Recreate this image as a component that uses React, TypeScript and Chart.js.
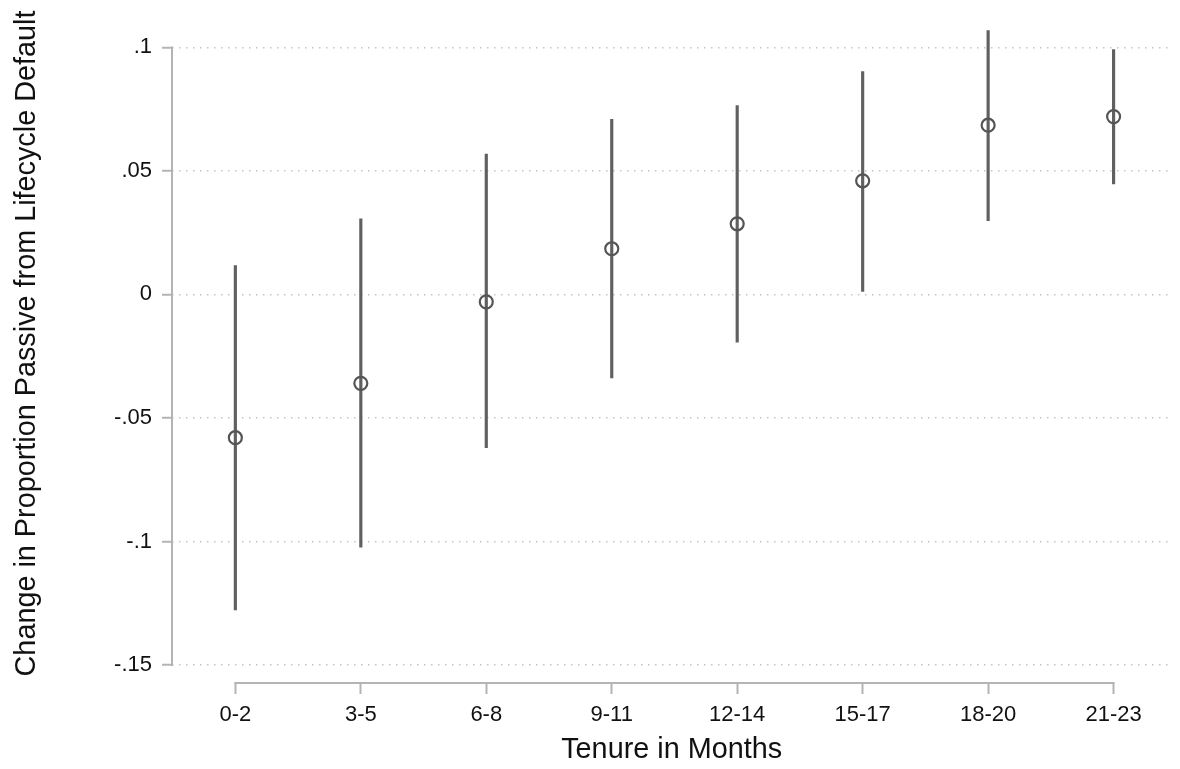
import React, { useEffect, useRef } from "react";
import { Chart, registerables } from "chart.js";

Chart.register(...registerables);

const categories = ["0-2", "3-5", "6-8", "9-11", "12-14", "15-17", "18-20", "21-23"];
const estimates = [-0.058, -0.036, -0.003, 0.0185, 0.0286, 0.046, 0.0685, 0.072];
const upperCI = [0.0117, 0.0306, 0.0568, 0.0709, 0.0765, 0.0902, 0.1068, 0.0991];
const lowerCI = [-0.1277, -0.1023, -0.062, -0.0338, -0.0193, 0.0012, 0.0299, 0.0447];
const yTickValues = [-0.15, -0.1, -0.05, 0, 0.05, 0.1];
const yTickLabels = ["-.15", "-.1", "-.05", "0", ".05", ".1"];
const xTitle = "Tenure in Months";
const yTitle = "Change in Proportion Passive from Lifecycle Default";

const FONT = "'Liberation Sans', Arial, Helvetica, sans-serif";
const AXIS_COLOR = "#b4b4b4";

const axisLinesPlugin = {
  id: "stataAxes",
  beforeDatasetsDraw(chart: any) {
    const { ctx, scales, chartArea } = chart;
    const x = scales.x;
    const y = scales.y;
    ctx.save();
    ctx.strokeStyle = AXIS_COLOR;
    ctx.lineWidth = 2;
    ctx.setLineDash([]);
    ctx.beginPath();
    const xl = chartArea.left;
    ctx.moveTo(xl, y.getPixelForValue(yTickValues[yTickValues.length - 1]) - 1);
    ctx.lineTo(xl, y.getPixelForValue(yTickValues[0]) + 1);
    const yb = chartArea.bottom;
    ctx.moveTo(x.getPixelForValue(0) - 1, yb);
    ctx.lineTo(x.getPixelForValue(categories.length - 1) + 1, yb);
    ctx.stroke();
    ctx.restore();
  },
  afterDraw(chart: any) {
    const { ctx } = chart;
    ctx.save();
    ctx.translate(27.3, 343.5);
    ctx.rotate(-Math.PI / 2);
    ctx.font = `28.8px ${FONT}`;
    ctx.fillStyle = "#111111";
    ctx.textAlign = "center";
    ctx.textBaseline = "middle";
    ctx.fillText(yTitle, 0, 0);
    ctx.restore();
  },
};

export default function App() {
  const ref = useRef<HTMLCanvasElement>(null);
  useEffect(() => {
    if (!ref.current) return;
    const chart = new Chart(ref.current, {
      type: "bar",
      data: {
        datasets: [
          {
            type: "scatter",
            data: estimates.map((v, i) => ({ x: i, y: v })),
            pointRadius: 6.5,
            pointHoverRadius: 6.5,
            pointBorderWidth: 2.2,
            borderColor: "#555555",
            backgroundColor: "rgba(0,0,0,0)",
            pointBackgroundColor: "rgba(0,0,0,0)",
          } as any,
          {
            type: "bar",
            data: lowerCI.map((lo, i) => ({ x: i, y: [lo, upperCI[i]] })),
            backgroundColor: "#606060",
            borderWidth: 0,
            barThickness: 2.5,
            borderSkipped: false,
          } as any,
        ],
      },
      options: {
        responsive: false,
        animation: false,
        layout: { padding: { top: 20, right: 0, left: 0, bottom: 0 } },
        plugins: { legend: { display: false }, tooltip: { enabled: false } },
        scales: {
          x: {
            type: "linear",
            min: -0.505,
            max: 7.46,
            offset: false,
            afterBuildTicks: (s: any) => {
              s.ticks = categories.map((_, i) => ({ value: i }));
            },
            afterFit: (s: any) => {
              s.height = 86;
            },
            ticks: {
              callback: (v: any) => categories[v] ?? "",
              font: { family: FONT, size: 22 },
              color: "#111111",
              padding: 8,
              maxRotation: 0,
              autoSkip: false,
            },
            grid: {
              display: true,
              offset: false,
              drawOnChartArea: false,
              drawTicks: true,
              tickLength: 11,
              tickColor: AXIS_COLOR,
              tickWidth: 2,
            },
            border: { display: false },
            title: {
              display: true,
              text: xTitle,
              font: { family: FONT, size: 28.8 },
              color: "#111111",
              padding: { top: 0, bottom: 2 },
            },
          },
          y: {
            type: "linear",
            min: -0.1573,
            max: 0.1098,
            afterBuildTicks: (s: any) => {
              s.ticks = yTickValues.map((v) => ({ value: v }));
            },
            afterFit: (s: any) => {
              s.width = 172;
            },
            ticks: {
              callback: (v: any) => {
                const idx = yTickValues.findIndex((t) => Math.abs(t - v) < 1e-9);
                return idx >= 0 ? yTickLabels[idx] : "";
              },
              font: { family: FONT, size: 22 },
              color: "#111111",
              padding: 10,
            },
            grid: {
              display: true,
              drawOnChartArea: true,
              drawTicks: true,
              tickLength: 10,
              color: "#c4c4c4",
              lineWidth: 1.5,
              tickColor: AXIS_COLOR,
              tickWidth: 2,
              tickBorderDash: [],
            },
            border: { display: false, dash: [1.5, 5.5] },
            title: { display: false },
          },
        },
      } as any,
      plugins: [axisLinesPlugin],
    });
    return () => chart.destroy();
  }, []);
  return (
    <div style={{ position: "fixed", left: 0, top: 0, width: 1180, height: 769, background: "#ffffff" }}>
      <canvas ref={ref} width={1180} height={769} />
    </div>
  );
}
